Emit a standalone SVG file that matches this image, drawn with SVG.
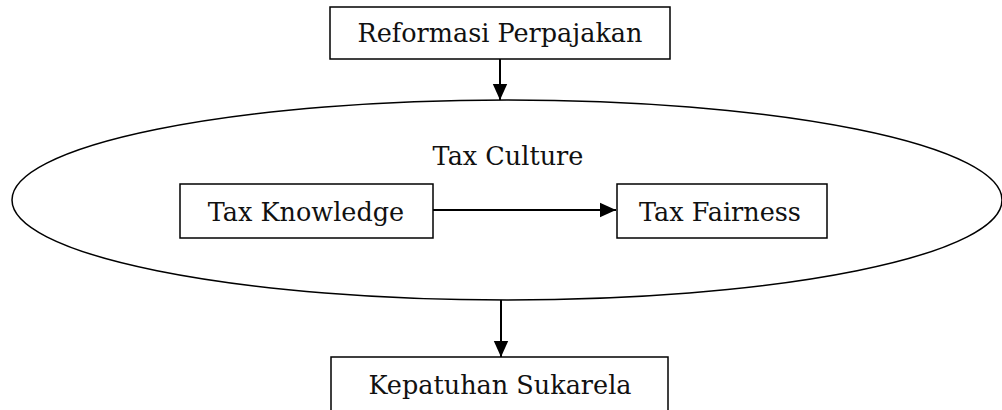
<svg xmlns="http://www.w3.org/2000/svg" width="1002" height="410" viewBox="0 0 1002 410">
<style>
.box{fill:#fff;stroke:#000;stroke-width:1.5}
.t{font-family:"DejaVu Serif","Liberation Serif",serif;font-size:25.5px;fill:#111;text-anchor:middle}
.c{stroke:#000;stroke-width:2;fill:none}
</style>
<defs>
<marker id="ah" markerWidth="9" markerHeight="8" refX="8" refY="4" orient="auto" markerUnits="strokeWidth"><path d="M0,0.4 L8,4 L0,7.6 Z" fill="#000"/></marker>
</defs>
<g id="culture"><ellipse cx="507" cy="200" rx="495" ry="100" fill="#fff" stroke="#000" stroke-width="1.5"/><text class="t" x="508" y="165">Tax Culture</text></g>
<g id="reformasi"><rect class="box" x="330" y="7" width="340" height="52"/><text class="t" x="500" y="42">Reformasi Perpajakan</text></g>
<g id="knowledge"><rect class="box" x="180" y="184" width="253" height="54"/><text class="t" x="306" y="221">Tax Knowledge</text></g>
<g id="fairness"><rect class="box" x="617" y="184" width="210" height="54"/><text class="t" x="720" y="221">Tax Fairness</text></g>
<g id="kepatuhan"><rect class="box" x="331" y="357" width="337" height="70"/><text class="t" x="500" y="394">Kepatuhan Sukarela</text></g>
<g id="connectors">
<line class="c" x1="500" y1="59" x2="500" y2="100" marker-end="url(#ah)"/>
<line class="c" x1="433" y1="210" x2="616" y2="210" marker-end="url(#ah)"/>
<line class="c" x1="501" y1="300" x2="501" y2="357" marker-end="url(#ah)"/>
</g>
</svg>
